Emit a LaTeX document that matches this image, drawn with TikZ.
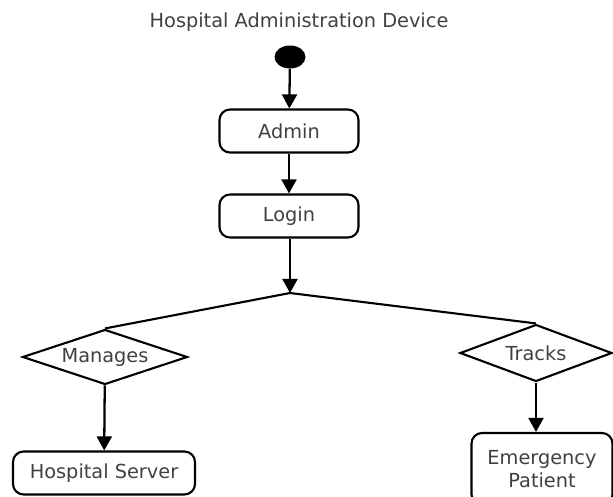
\documentclass[tikz,border=0pt]{standalone}
\usepackage{fontspec}
\setmainfont{DejaVu Sans}
\usetikzlibrary{shapes.geometric,arrows.meta}

\tikzset{
	etat/.style={draw, line width=1.2pt, rounded corners=6pt, minimum width=2.78cm,
		minimum height=0.86cm, text=black!75, font=\fontsize{11}{13}\selectfont, align=center},
	choix/.style={draw, diamond, aspect=3, inner sep=0pt, line width=1.2pt,
		text=black!75, font=\fontsize{11}{13}\selectfont},
	fleche/.style={line width=1.3pt, -{Triangle[length=8pt,width=8.5pt]}}
}

\begin{document}
\begin{tikzpicture}
\useasboundingbox (0,0) rectangle (12.26,-9.92);
\clip (0,0) rectangle (12.26,-9.92); % Clips the picture...

%Titre
\node (titre) at (5.98,-0.44) [text=black!75, font=\fontsize{11}{13}\selectfont] {Hospital Administration Device};

%Etats
\node (debut) at (5.80,-1.14) [ellipse, fill=black, minimum width=0.62cm, minimum height=0.46cm, inner sep=0pt] {};
\node (admin) at (5.78,-2.62) [etat] {Admin};
\node (login) at (5.78,-4.32) [etat] {Login};
\coordinate (split) at (5.80,-5.86);

%Choix
\node (manages) at (2.10,-7.14) [choix, minimum width=3.3cm, minimum height=1.1cm] {Manages};
\node (tracks) at (10.72,-7.06) [choix, minimum width=3.04cm, minimum height=1.14cm] {Tracks};

%Cibles
\node (server) at (2.08,-9.46) [etat, minimum width=3.64cm] {Hospital Server};
\node (patient) at (10.84,-9.38) [etat, minimum width=2.82cm, minimum height=1.44cm] {Emergency\\Patient};

%Transitions
\draw [fleche] (debut) -- (admin);
\draw [fleche] (admin) -- (login);
\draw [fleche] (login.south -| split) -- (split);
\draw [line width=1.2pt] (manages.north) -- (split) -- (tracks.north);
\draw [fleche] (manages) -- (server);
\draw [fleche] (tracks.south) -- (tracks.south |- patient.north);

\end{tikzpicture}
\end{document}
